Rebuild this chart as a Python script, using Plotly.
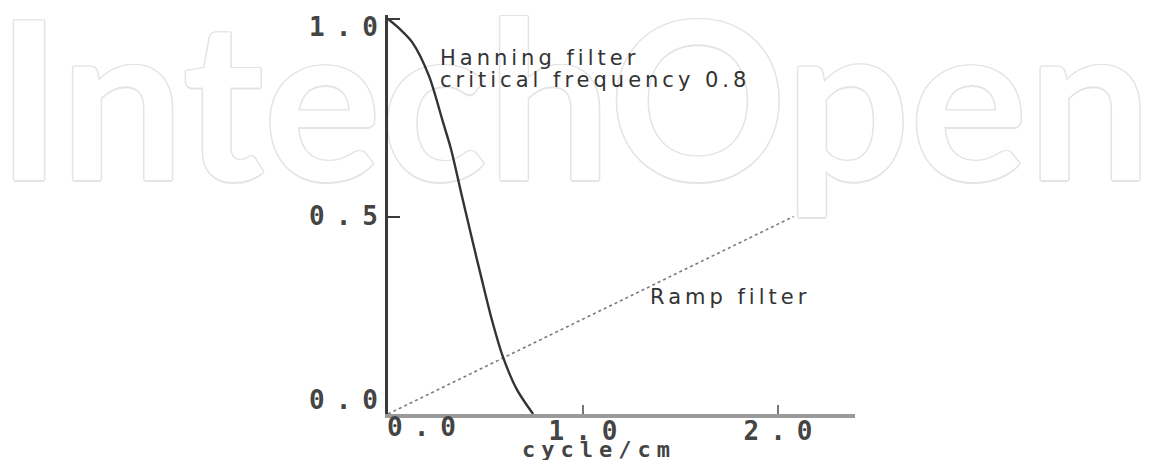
import plotly.graph_objects as go

# ---- data ----
hanning_x = [0.0, 0.06, 0.123, 0.210, 0.282, 0.323, 0.379, 0.431, 0.477, 0.533, 0.590, 0.662, 0.744]
hanning_y = [1.0, 0.975, 0.942, 0.856, 0.739, 0.671, 0.552, 0.443, 0.349, 0.238, 0.144, 0.061, 0.0]
ramp_x = [0.0, 2.08]
ramp_y = [0.0, 0.5]
x_tick_vals = [1.0, 2.0]
x_tick_text = ["1.0", "2.0"]
y_tick_vals = [0.0, 0.5, 1.0]
y_tick_text = ["0.0", "0.5", "1.0"]
watermark = "IntechOpen"

W, H = 1151, 460
OFF = 8  # page body offset
mono = "DejaVu Sans Mono"
sans = "DejaVu Sans"
outline = "#e4e4e4"
shadow = ", ".join(f"{dx}px {dy}px 0 {outline}" for dx, dy in
                   [(1.5, 0), (-1.5, 0), (0, 1.5), (0, -1.5), (1, 1), (-1, -1), (1, -1), (-1, 1)])


def spaced(s, px):
    # letter spacing between characters (none after the last one)
    return f'<span style="letter-spacing:{px}px">{s[:-1]}</span>{s[-1]}'


tick_font = dict(family=mono, size=26, color="#444", weight="bold")
label_font = dict(family=sans, size=21, color="#333")

# pixel geometry (page coords minus body offset)
x0_px, x1_px = 388 - OFF, 855 - OFF
y0_px = 414 - OFF
x_max = 2.395
y_max = 1.01
y_top_px = y0_px - 395 * y_max

fig = go.Figure()

# background watermark on full-page axes
fig.add_trace(go.Scatter(
    x=[566], y=[343], mode="text", text=[watermark], textposition="middle center",
    textfont=dict(family="Lato", size=220, color="white", weight="bold", shadow=shadow),
    xaxis="x", yaxis="y", hoverinfo="skip", showlegend=False, cliponaxis=False))

# chart traces
fig.add_trace(go.Scatter(
    x=ramp_x, y=ramp_y, mode="lines", line=dict(color="#7a7a7a", width=1.6, dash="dot"),
    xaxis="x2", yaxis="y2", showlegend=False, name="Ramp filter"))
fig.add_trace(go.Scatter(
    x=hanning_x, y=hanning_y, mode="lines",
    line=dict(color="#333333", width=2.4, shape="spline", smoothing=0.8),
    xaxis="x2", yaxis="y2", showlegend=False, name="Hanning filter"))

# y tick labels: the end labels sit slightly inside their ticks in the reference
y_label_shift = {0.0: 14, 0.5: 0, 1.0: -8}
y_label_annotations = [
    dict(text=spaced(t, 11), x=0, y=v, xref="x2", yref="y2", xanchor="right", yanchor="middle",
         xshift=-8, yshift=y_label_shift[v], showarrow=False, font=tick_font)
    for v, t in zip(y_tick_vals, y_tick_text)
]

fig.update_layout(
    width=W, height=H,
    margin=dict(l=0, r=0, t=0, b=0, pad=0),
    paper_bgcolor="white", plot_bgcolor="rgba(0,0,0,0)",
    xaxis=dict(domain=[0, 1], range=[0, W], visible=False, fixedrange=True, automargin=False),
    yaxis=dict(domain=[0, 1], range=[0, H], visible=False, fixedrange=True, automargin=False),
    xaxis2=dict(domain=[x0_px / W, x1_px / W], range=[0, x_max], anchor="y2", automargin=False,
                showline=True, linecolor="#9a9a9a", linewidth=3.5, showgrid=False, zeroline=False,
                ticks="inside", ticklen=9, tickwidth=2, tickcolor="#777",
                tickvals=x_tick_vals, ticktext=[spaced(t, 11) for t in x_tick_text],
                ticklabelstandoff=-9, ticklabeloverflow="allow", tickfont=tick_font),
    yaxis2=dict(domain=[(H - y0_px) / H, (H - y_top_px) / H], range=[0, y_max], anchor="x2",
                automargin=False,
                showline=True, linecolor="#3a3a3a", linewidth=2.5, showgrid=False, zeroline=False,
                ticks="inside", ticklen=12, tickwidth=2, tickcolor="#3a3a3a",
                tickvals=y_tick_vals, showticklabels=False),
    annotations=y_label_annotations + [
        dict(text=spaced("0.0", 11), x=0, y=0, xref="x2", yref="y2", xanchor="left", yanchor="middle",
             xshift=-3, yshift=-13, showarrow=False, font=tick_font),
        dict(text=spaced("cycle/cm", 6), x=1.067, y=(H - 441) / H, xref="x2", yref="paper",
             xanchor="center", yanchor="middle", showarrow=False,
             font=dict(family=mono, size=22, color="#444", weight="bold")),
        dict(text=spaced("Hanning filter", 4), x=0.256, y=0.901, xref="x2", yref="y2",
             xanchor="left", yanchor="middle", showarrow=False, font=label_font),
        dict(text=spaced("critical frequency 0.8", 4), x=0.256, y=0.846, xref="x2", yref="y2",
             xanchor="left", yanchor="middle", showarrow=False, font=label_font),
        dict(text=spaced("Ramp filter", 4), x=1.333, y=0.296, xref="x2", yref="y2",
             xanchor="left", yanchor="middle", showarrow=False, font=label_font),
    ],
)

fig.write_html("out.html")
